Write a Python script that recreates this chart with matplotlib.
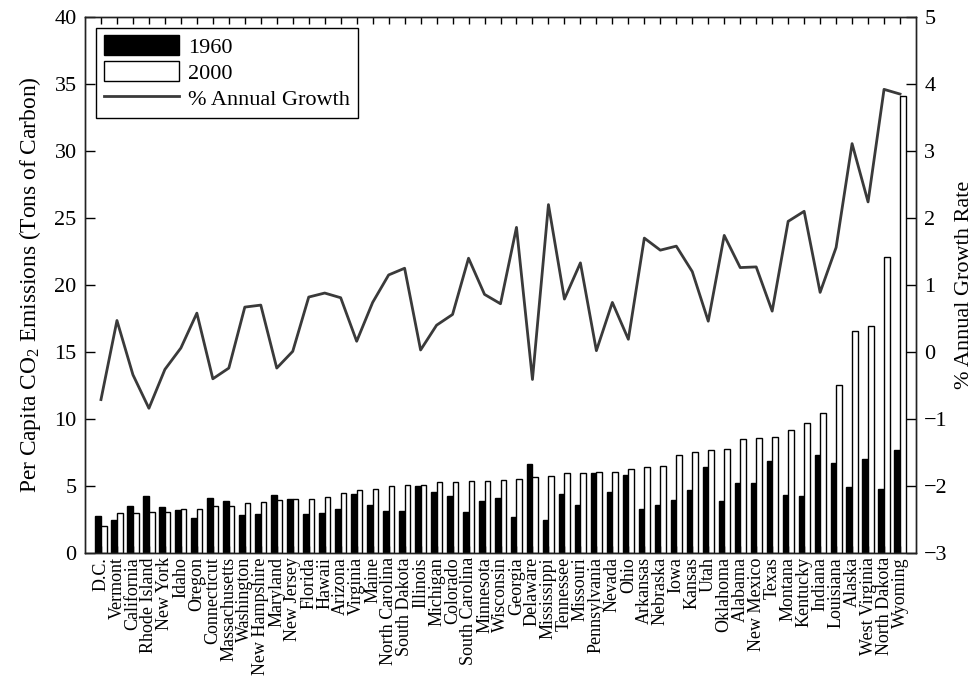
import matplotlib
matplotlib.use("Agg")
import matplotlib.pyplot as plt
import numpy as np
from matplotlib.lines import Line2D
from matplotlib.patches import Patch

plt.rcParams["font.family"] = ["Liberation Serif", "DejaVu Serif"]
plt.rcParams["mathtext.fontset"] = "custom"
plt.rcParams["mathtext.rm"] = "Liberation Serif"

states = [
    "D.C.", "Vermont", "California", "Rhode Island", "New York", "Idaho",
    "Oregon", "Connecticut", "Massachusetts", "Washington", "New Hampshire",
    "Maryland", "New Jersey", "Florida", "Hawaii", "Arizona", "Virginia",
    "Maine", "North Carolina", "South Dakota", "Illinois", "Michigan",
    "Colorado", "South Carolina", "Minnesota", "Wisconsin", "Georgia",
    "Delaware", "Mississippi", "Tennessee", "Missouri", "Pennsylvania",
    "Nevada", "Ohio", "Arkansas", "Nebraska", "Iowa", "Kansas", "Utah",
    "Oklahoma", "Alabama", "New Mexico", "Texas", "Montana", "Kentucky",
    "Indiana", "Louisiana", "Alaska", "West Virginia", "North Dakota",
    "Wyoming",
]

# per capita emissions, tons of carbon
co2_1960 = [
    2.73, 2.49, 3.48, 4.22, 3.41, 3.18, 2.64, 4.08, 3.88, 2.86, 2.91,
    4.35, 4.00, 2.91, 2.96, 3.28, 4.40, 3.58, 3.16, 3.11, 5.02, 4.52,
    4.28, 3.09, 3.85, 4.13, 2.66, 6.65, 2.44, 4.37, 3.58, 5.98, 4.52,
    5.81, 3.28, 3.58, 3.95, 4.70, 6.43, 3.90, 5.19, 5.22, 6.88, 4.30,
    4.25, 7.32, 6.73, 4.89, 7.03, 4.79, 7.67,
]
co2_2000 = [
    2.04, 2.98, 2.98, 3.03, 3.06, 3.26, 3.28, 3.48, 3.53, 3.70, 3.83,
    3.93, 4.00, 4.05, 4.20, 4.50, 4.67, 4.77, 4.97, 5.07, 5.09, 5.27,
    5.29, 5.34, 5.37, 5.46, 5.49, 5.64, 5.76, 5.96, 5.98, 6.01, 6.03,
    6.28, 6.41, 6.51, 7.32, 7.52, 7.69, 7.74, 8.49, 8.61, 8.69, 9.21,
    9.68, 10.45, 12.53, 16.57, 16.94, 22.12, 34.14,
]
annual_growth = [
    -0.71, 0.47, -0.34, -0.84, -0.26, 0.06, 0.58, -0.40, -0.24, 0.67,
    0.70, -0.24, 0.01, 0.82, 0.88, 0.81, 0.16, 0.74, 1.15, 1.25, 0.03,
    0.40, 0.56, 1.40, 0.86, 0.72, 1.86, -0.41, 2.20, 0.79, 1.33, 0.02,
    0.74, 0.19, 1.70, 1.52, 1.58, 1.20, 0.46, 1.74, 1.26, 1.27, 0.61,
    1.95, 2.10, 0.89, 1.56, 3.11, 2.24, 3.92, 3.85,
]

x = np.arange(1, len(states) + 1)
width = 0.35
line_color = "#3a3a3a"

fig = plt.figure(figsize=(9.75, 6.83), dpi=100)
ax = fig.add_axes([85 / 975, 1 - 553 / 683, 831 / 975, 536 / 683])

ax.bar(x - width / 2, co2_1960, width, color="black", edgecolor="black",
       linewidth=1.0)
ax.bar(x + width / 2, co2_2000, width, color="white", edgecolor="black",
       linewidth=1.0)
ax.set_xlim(0, 52)
ax.set_ylim(0, 40)
ax.set_yticks(np.arange(0, 41, 5))
ax.set_xticks(x)
ax.set_xticklabels(states, rotation=90, fontsize=13)
ax.tick_params(axis="x", direction="in", top=True, length=5, width=1,
               pad=3)
ax.tick_params(axis="y", direction="in", length=7, width=1, labelsize=16,
               pad=6)
ax.set_ylabel(r"Per Capita CO$_2$ Emissions (Tons of Carbon)", fontsize=16.8,
              labelpad=8)

ax2 = ax.twinx()
ax2.plot(x, annual_growth, color=line_color, linewidth=2.0)
ax2.set_ylim(-3, 5)
ax2.set_yticks(np.arange(-3, 6, 1))
ax2.tick_params(axis="y", direction="in", length=7, width=1, labelsize=16,
                pad=6)
ax2.set_ylabel("% Annual Growth Rate", fontsize=16, labelpad=5)

for a in (ax, ax2):
    for spine in a.spines.values():
        spine.set_linewidth(1.0)
        spine.set_color("#222222")

handles = [
    Patch(facecolor="black", edgecolor="black", label="1960"),
    Patch(facecolor="white", edgecolor="black", label="2000"),
    Line2D([], [], color=line_color, linewidth=2.0, label="% Annual Growth"),
]
leg = ax2.legend(handles=handles, loc="upper left",
                 bbox_to_anchor=(0.013, 0.98), borderaxespad=0,
                 fontsize=16, fancybox=False, framealpha=1,
                 edgecolor="black", handlelength=3.4, handleheight=1.0,
                 handletextpad=0.4, labelspacing=0.15, borderpad=0.35)
leg.get_frame().set_linewidth(1.0)

fig.savefig("out.png", dpi=100)
